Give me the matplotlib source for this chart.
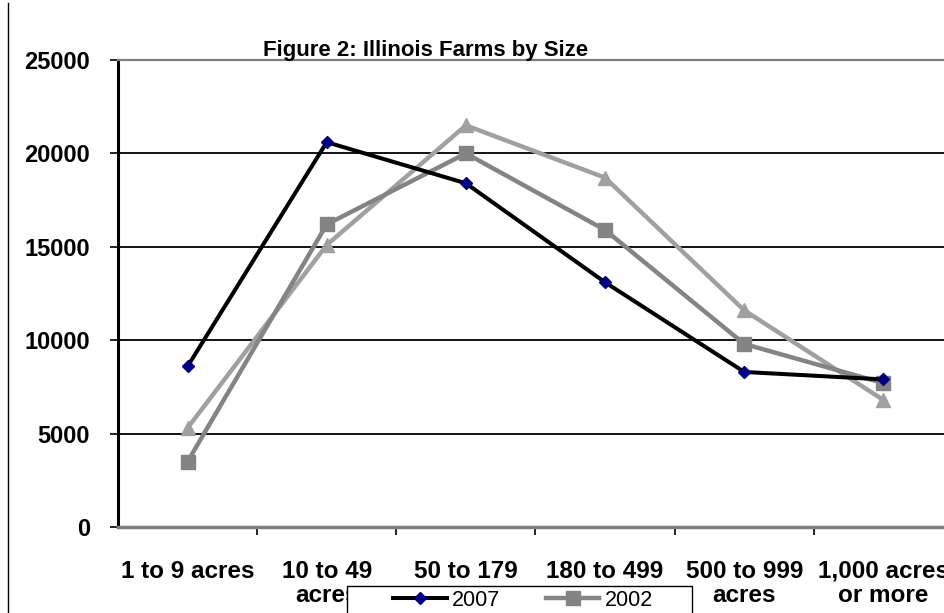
import matplotlib.pyplot as plt
from matplotlib.lines import Line2D
from matplotlib.patches import Rectangle

sizes = ['1 to 9 acres', '10 to 49\nacres', '50 to 179\nacres',
         '180 to 499\nacres', '500 to 999\nacres', '1,000 acres\nor more']
farms_2007 = [8600, 20600, 18400, 13100, 8300, 7900]
farms_2002 = [3500, 16200, 20000, 15900, 9800, 7700]
farms_1997 = [5300, 15100, 21500, 18700, 11600, 6800]
yticks = [0, 5000, 10000, 15000, 20000, 25000]

plt.rcParams['font.family'] = ['Liberation Sans', 'DejaVu Sans']

fig = plt.figure(figsize=(9.44, 6.13), dpi=100)
ax = fig.add_axes([0.125, 0.1403, 0.8845, 0.7618])

xpos = [i + 0.5 for i in range(len(sizes))]

ax.plot(xpos, farms_1997, color='#a0a0a0', lw=3.2, marker='^', ms=10,
        mfc='#a0a0a0', mec='#a0a0a0', zorder=3)
ax.plot(xpos, farms_2002, color='#848484', lw=3.2, marker='s', ms=9.5,
        mfc='#848484', mec='#848484', zorder=4, label='2002')
ax.plot(xpos, farms_2007, color='black', lw=2.9, marker='D', ms=6.5,
        mfc='#000080', mec='#000080', zorder=5, label='2007')

ax.set_xlim(0, len(sizes))
ax.set_ylim(0, 25000)
ax.set_yticks(yticks)
ax.set_yticklabels([str(v) for v in yticks], fontsize=17, fontweight='bold')
ax.set_xticks(range(1, len(sizes)))
ax.set_xticklabels([])
for x, lab in zip(xpos, sizes):
    ax.text(x, -1750, lab, ha='center', va='top', fontsize=17.5,
            fontweight='bold', linespacing=1.1,
            transform=ax.transData, clip_on=False)

for v in yticks[1:-1]:
    ax.axhline(v, color='black', lw=1.3, zorder=1)

ax.tick_params(axis='y', direction='out', length=6, width=1.2, pad=14)
ax.tick_params(axis='x', direction='out', length=6, width=1.2)
ax.spines['left'].set_color('black')
ax.spines['left'].set_linewidth(2.2)
ax.spines['bottom'].set_color('#808080')
ax.spines['bottom'].set_linewidth(2.5)
ax.spines['top'].set_color('#808080')
ax.spines['top'].set_linewidth(1.6)
ax.spines['right'].set_visible(False)

fig.text(0.451, 0.909, 'Figure 2: Illinois Farms by Size', ha='center',
         va='baseline', fontsize=16, fontweight='bold')

# legend box (cut off at the bottom edge of the picture)
box = Rectangle((0.3676, -0.02), 0.3655, 0.064, transform=fig.transFigure,
                facecolor='white', edgecolor='black', lw=1.0, zorder=9)
fig.add_artist(box)

handles = [Line2D([], [], color='black', lw=2.9, marker='D', ms=6.5,
                  mfc='#000080', mec='#000080'),
           Line2D([], [], color='#848484', lw=3.2, marker='s', ms=9.5,
                  mfc='#848484', mec='#848484')]
leg = fig.legend(handles, ['2007', '2002'], loc='center left',
                 bbox_to_anchor=(0.4163, 0.0212), ncol=2, fontsize=15.5,
                 frameon=False, borderpad=0, borderaxespad=0,
                 handlelength=2.5, handletextpad=0.25, columnspacing=2.1)
leg.set_zorder(10)

fig.add_artist(Line2D([0.008, 0.008], [0, 0.995], color='black', lw=1.0,
                      transform=fig.transFigure))

fig.savefig('out.png', dpi=100)
